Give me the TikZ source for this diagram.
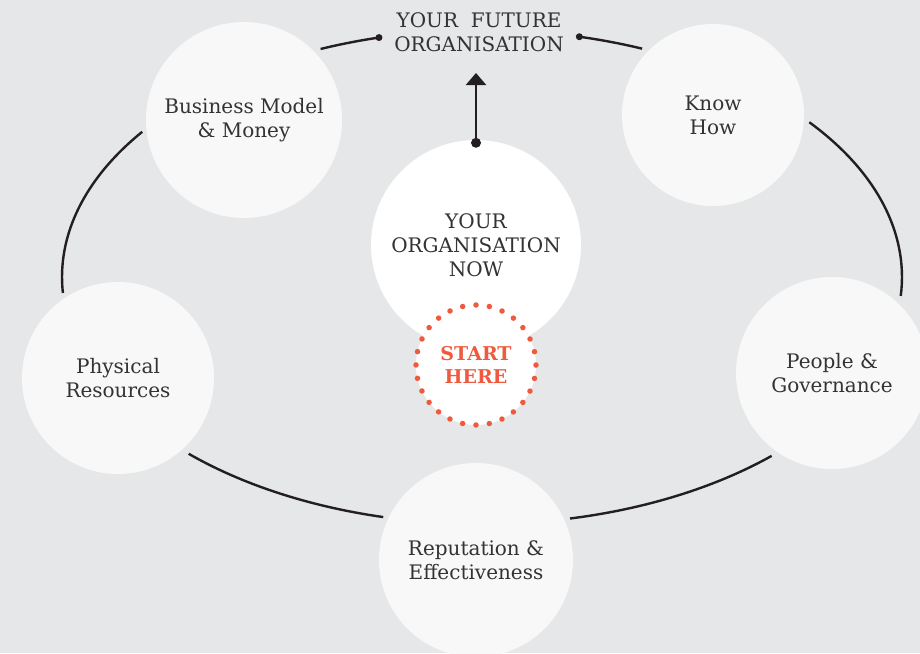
\documentclass[tikz,border=0pt]{standalone}
\usepackage{fontspec}
\setmainfont{DejaVu Serif}
\usetikzlibrary{arrows.meta}
\definecolor{paper}{HTML}{E6E7E8}
\definecolor{disc}{HTML}{F8F8F8}
\definecolor{ink}{HTML}{231F20}
\definecolor{words}{HTML}{333333}
\definecolor{flame}{HTML}{EF5A3E}

\begin{document}
\begin{tikzpicture}[x=1pt,y=-1pt,
	topic/.style={shape=circle, fill=disc, inner sep=0pt, align=center, text=words,
		font=\fontsize{20}{24}\selectfont},
	caps/.style={align=center, text=words, font=\fontsize{20}{24}\selectfont},
	ringline/.style={draw=ink, line width=2.4pt},
	startdot/.style={shape=circle, fill=white, draw=flame, inner sep=0pt, minimum size=120pt,
		line width=5.5pt, line cap=round, dash pattern=on 0pt off 13.46pt, align=center,
		text=flame, font=\bfseries\fontsize{19}{23}\selectfont}]
	\fill[paper] (0,0) rectangle (920,653);
	\useasboundingbox (0,0) rectangle (920,653);
	\clip (0,0) rectangle (920,653);

	\coordinate (ring) at (482,277);
	\coordinate (tip) at (476,73);

	\node[topic, minimum size=196pt] (money) at (244,120) {Business Model\\\& Money};
	\node[topic, minimum size=182pt] (know) at (713,115) {Know\\How};
	\node[topic, minimum size=192pt] (physical) at (118,378) {Physical\\Resources};
	\node[topic, minimum size=192pt] (people) at (832,373) {People \&\\Governance};
	\node[topic, minimum size=194pt] (reputation) at (476,560) {Reputation \&\\Effectiveness};
	\node[topic, fill=white, minimum size=210pt] (now) at (476,245) {YOUR\\ORGANISATION\\NOW};
	\node[startdot] (start) at (476,365) {START\\HERE};
	\node[caps] (future) at (479,32) {YOUR\ \ FUTURE\\ORGANISATION};

	\draw[ringline, -{Triangle[width=20pt,length=12pt]}] ([yshift=-3pt]now.north) -- (tip);
	\fill[ink] ([yshift=-3pt]now.north) circle (5pt);

	\draw[ringline] ([shift={(-104.2:420 and 247)}]ring) arc[start angle=-104.2, end angle=-112.6, x radius=420, y radius=247];
	\fill[ink] ([shift={(-104.2:420 and 247)}]ring) circle (3.5pt);
	\draw[ringline] ([shift={(-76.6:420 and 247)}]ring) arc[start angle=-76.6, end angle=-67.6, x radius=420, y radius=247];
	\fill[ink] ([shift={(-76.6:420 and 247)}]ring) circle (3.5pt);
	\draw[ringline] ([shift={(-144:420 and 247)}]ring) arc[start angle=-144, end angle=-183.7, x radius=420, y radius=247];
	\draw[ringline] ([shift={(-38.8:420 and 247)}]ring) arc[start angle=-38.8, end angle=4.4, x radius=420, y radius=247];
	\draw[ringline] ([shift={(103.6:420 and 247)}]ring) arc[start angle=103.6, end angle=134.3, x radius=420, y radius=247];
	\draw[ringline] ([shift={(46.4:420 and 247)}]ring) arc[start angle=46.4, end angle=77.9, x radius=420, y radius=247];
\end{tikzpicture}
\end{document}
